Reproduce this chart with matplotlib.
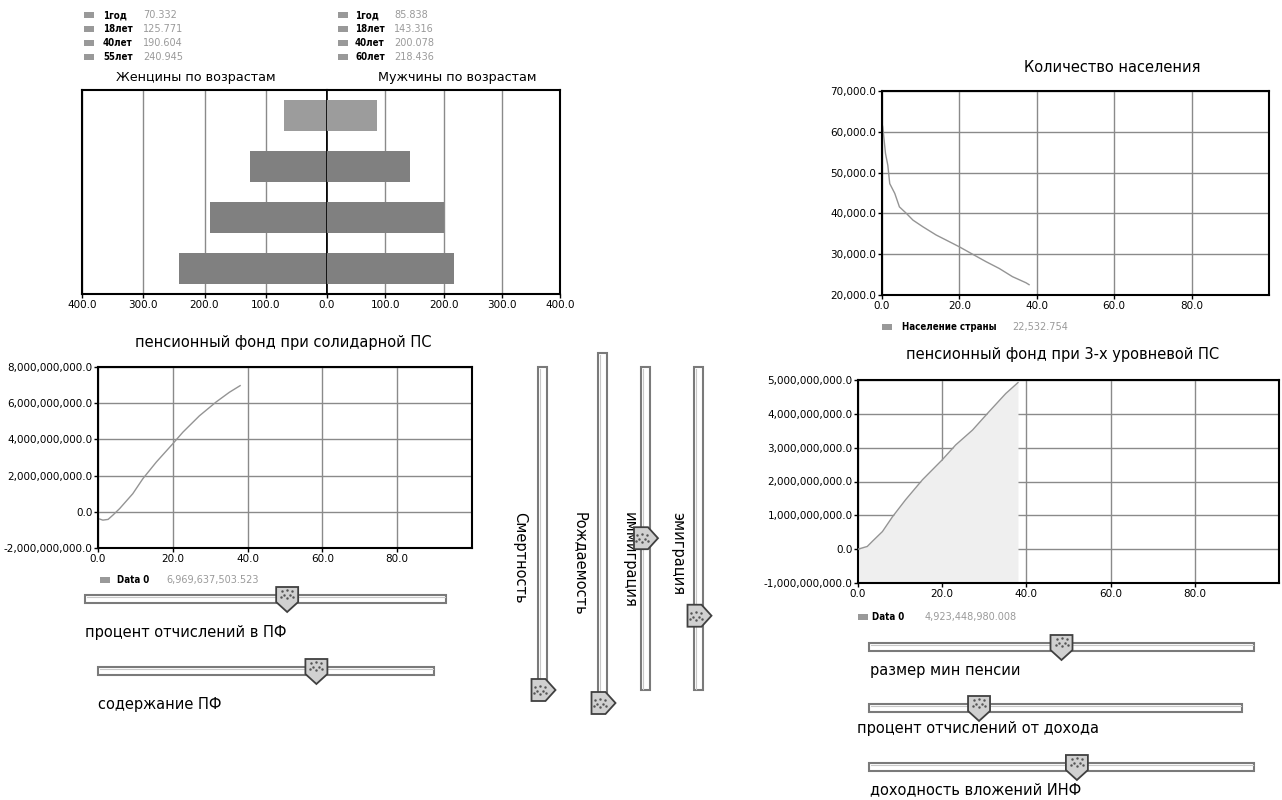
import matplotlib
matplotlib.use('Agg')
import matplotlib.pyplot as plt
from matplotlib.patches import Rectangle, Polygon
import numpy as np

plt.rcParams['font.family'] = ['DejaVu Sans']

W, H = 1282, 800

# ---------------- data ----------------
ages_women = ['1год', '18лет', '40лет', '55лет']
ages_men = ['1год', '18лет', '40лет', '60лет']
women = [70.332, 125.771, 190.604, 240.945]
men = [85.838, 143.316, 200.078, 218.436]
pyr_ticks_left = [400, 300, 200, 100, 0]
pyr_ticks_right = [100, 200, 300, 400]

pop_t = [0, 0.2, 0.9, 1.5, 2.0, 3.3, 4.5, 6.3, 8.0, 10.6, 14.0, 16.6, 20.0, 23.4, 26.9, 30.3, 33.7, 37.2, 38.0]
pop_v = [62000, 61200, 54700, 51800, 47300, 44900, 41600, 40000, 38350, 36700, 34700, 33450,
         31800, 30000, 28160, 26500, 24500, 23000, 22532.754]
pop_label = 'Население страны'
pop_current = 22532.754

pf_t = [0, 1.3, 2.7, 4.0, 5.8, 9.3, 12.0, 15.6, 20.0, 22.7, 27.1, 31.6, 35.1, 38.0]
pf_v = [-0.37e9, -0.46e9, -0.42e9, -0.18e9, 0.18e9, 1.0e9, 1.83e9, 2.75e9, 3.76e9, 4.4e9,
        5.3e9, 6.07e9, 6.6e9, 6969637503.523]
pf_current = 6969637503.523

pf3_t = [0, 2.2, 3.4, 5.8, 8.2, 11.3, 15.3, 20.0, 23.2, 27.2, 31.1, 35.1, 38.0]
pf3_v = [0.0, 0.08e9, 0.23e9, 0.52e9, 0.96e9, 1.46e9, 2.05e9, 2.64e9, 3.08e9, 3.52e9,
         4.06e9, 4.6e9, 4923448980.008]
pf3_current = 4923448980.008

x_ticks = [0, 20, 40, 60, 80]
pop_yticks = [20000, 30000, 40000, 50000, 60000, 70000]
pf_yticks = [-2e9, 0, 2e9, 4e9, 6e9, 8e9]
pf3_yticks = [-1e9, 0, 1e9, 2e9, 3e9, 4e9, 5e9]

h_slider_labels = ['процент отчислений в ПФ', 'содержание ПФ', 'размер мин пенсии',
                   'процент отчислений от дохода', 'доходность вложений ИНФ']
h_slider_values = [0.56, 0.65, 0.50, 0.295, 0.54]
v_slider_labels = ['Смертность', 'Рождаемость', 'иммиграция', 'эмиграция']
v_slider_values = [0.0, 0.0, 0.47, 0.23]

# ---------------- figure ----------------
fig = plt.figure(figsize=(W / 100, H / 100), dpi=100)
fig.patch.set_facecolor('white')

def ax_at(x0, y0, x1, y1):
    return fig.add_axes([x0 / W, 1 - y1 / H, (x1 - x0) / W, (y1 - y0) / H])

LINE = '#949494'
GRID = '#8a8a8a'
TICK_FS = 7.5

def style(ax):
    for s in ax.spines.values():
        s.set_color('black')
        s.set_linewidth(1.5)
    ax.grid(True, color=GRID, lw=1)
    ax.set_axisbelow(True)
    ax.tick_params(length=3, width=1, labelsize=TICK_FS, pad=1)

# ---- pyramid ----
axL = ax_at(82, 90, 327, 294)
axR = ax_at(327, 90, 560, 294)
ypos = np.arange(len(women))
bar_cols = ['#9c9c9c'] + ['#808080'] * (len(women) - 1)
axL.barh(ypos, women, height=0.6, color=bar_cols, zorder=3)
axR.barh(ypos, men, height=0.6, color=bar_cols, zorder=3)
axL.set_xlim(400, 0)
axR.set_xlim(0, 400)
for a in (axL, axR):
    style(a)
    a.set_ylim(len(women) - 0.5, -0.5)
    a.set_yticks([])
    a.grid(False, axis='y')
axL.set_xticks(pyr_ticks_left)
axL.set_xticklabels([f'{v:.1f}' for v in pyr_ticks_left])
axR.set_xticks(pyr_ticks_right)
axR.set_xticklabels([f'{v:.1f}' for v in pyr_ticks_right])
axL.spines['right'].set_linewidth(1.2)
axR.spines['left'].set_linewidth(1.2)

# ---- population ----
axP = ax_at(882, 91, 1269, 295)
axP.plot(pop_t, pop_v, color=LINE, lw=1)
axP.set_xlim(0, 100)
axP.set_ylim(20000, 70000)
style(axP)
axP.set_xticks(x_ticks)
axP.set_xticklabels([f'{v:.1f}' for v in x_ticks])
axP.set_yticks(pop_yticks)
axP.set_yticklabels([f'{v:,.1f}' for v in pop_yticks])

# ---- pension fund (solidary) ----
axF = ax_at(98, 367, 472, 548)
axF.plot(pf_t, pf_v, color=LINE, lw=1)
axF.set_xlim(0, 100)
axF.set_ylim(-2e9, 8e9)
style(axF)
axF.set_xticks(x_ticks)
axF.set_xticklabels([f'{v:.1f}' for v in x_ticks])
axF.set_yticks(pf_yticks)
axF.set_yticklabels([f'{v:,.1f}' for v in pf_yticks])

# ---- pension fund (3-level) ----
axG = ax_at(858, 380, 1279, 583)
axG.fill_between(pf3_t, pf3_v, -1e9, color='#efefef', lw=0, zorder=1)
axG.plot(pf3_t, pf3_v, color=LINE, lw=1, zorder=3)
axG.set_xlim(0, 100)
axG.set_ylim(-1e9, 5e9)
style(axG)
axG.set_xticks(x_ticks)
axG.set_xticklabels([f'{v:.1f}' for v in x_ticks])
axG.set_yticks(pf3_yticks)
axG.set_yticklabels([f'{v:,.1f}' for v in pf3_yticks])

# ---------------- overlay ----------------
ov = fig.add_axes([0, 0, 1, 1])
ov.set_xlim(0, W)
ov.set_ylim(H, 0)
ov.axis('off')

TFS = 10.5

def title(x, y, s, fs=TFS):
    ov.text(x, y, s, ha='center', va='center', fontsize=fs)

title(196, 77, 'Женцины по возрастам', 9.2)
title(457, 77, 'Мужчины по возрастам', 9.2)
title(1112, 67, 'Количество населения')
title(283, 343, 'пенсионный фонд при солидарной ПС')
title(1063, 355, 'пенсионный фонд при 3-х уровневой ПС')

def legend_row(x, y, label, value, lx, vx):
    ov.add_patch(Rectangle((x, y - 3), 10, 6, facecolor='#999999', edgecolor='none'))
    ov.text(lx, y, label, ha='left', va='center', fontsize=7, fontweight='bold',
            fontstretch='condensed')
    ov.text(vx, y, value, ha='left', va='center', fontsize=7, color='#9a9a9a')

rows_y = [15, 29, 43, 57]
for i in range(len(women)):
    legend_row(84, rows_y[i], ages_women[i], f'{women[i]:.3f}', 103, 143)
    legend_row(338, rows_y[i], ages_men[i], f'{men[i]:.3f}', 355, 394)

legend_row(882, 327, pop_label, f'{pop_current:,.3f}', 902, 1012)
legend_row(100, 580, 'Data 0', f'{pf_current:,.3f}', 117, 166)
legend_row(858, 617, 'Data 0', f'{pf3_current:,.3f}', 872, 925)

TH_FACE = '#d0d0d0'
TH_EDGE = '#404040'

def dots(cx, cy):
    offs = [(-5, -3), (0, -4), (5, -3), (-3, 1), (3, 1), (-6, 3), (6, 3), (0, 4)]
    ov.scatter([cx + a for a, b in offs], [cy + b for a, b in offs], s=0.6, color='#555555', zorder=6)

def hslider(x0, x1, y, frac, label, lx, ly):
    ov.add_patch(Rectangle((x0, y - 4), x1 - x0, 8, facecolor='white', edgecolor='#7a7a7a', lw=1.5, zorder=4))
    ov.plot([x0 + 1.5, x1 - 1.5], [y - 2, y - 2], color='#c8c8c8', lw=0.8, zorder=4)
    cx = x0 + frac * (x1 - x0)
    pts = [(cx - 11, y - 12), (cx + 11, y - 12), (cx + 11, y + 3), (cx, y + 13), (cx - 11, y + 3)]
    ov.add_patch(Polygon(pts, closed=True, facecolor=TH_FACE, edgecolor=TH_EDGE, lw=1.3, zorder=5))
    dots(cx, y - 5)
    ov.text(lx, ly, label, ha='left', va='center', fontsize=TFS)

def vslider(x, y0, y1, frac, label, lx, ly):
    ov.add_patch(Rectangle((x - 4.5, y0), 9, y1 - y0, facecolor='white', edgecolor='#7a7a7a', lw=1.5, zorder=4))
    ov.plot([x - 2.5, x - 2.5], [y0 + 1.5, y1 - 1.5], color='#c8c8c8', lw=0.8, zorder=4)
    cy = y1 - frac * (y1 - y0)
    pts = [(x - 11, cy - 11), (x + 3, cy - 11), (x + 13, cy), (x + 3, cy + 11), (x - 11, cy + 11)]
    ov.add_patch(Polygon(pts, closed=True, facecolor=TH_FACE, edgecolor=TH_EDGE, lw=1.3, zorder=5))
    dots(x - 3, cy)
    ov.text(lx, ly, label, ha='center', va='top', rotation=270, fontsize=TFS)

hs = [(85, 446, 599, 85, 633), (98, 434, 671, 98, 705), (869, 1254, 647, 870, 670),
      (869, 1242, 708, 857, 728), (869, 1254, 767, 870, 790)]
for (x0, x1, y, lx, ly), v, lab in zip(hs, h_slider_values, h_slider_labels):
    hslider(x0, x1, y, v, lab, lx, ly)

vs = [(542.5, 367, 690, 520, 512), (602.5, 353, 703, 580, 512), (645, 367, 690, 629, 512),
      (698.5, 367, 690, 678, 512)]
for (x, y0, y1, lx, ly), v, lab in zip(vs, v_slider_values, v_slider_labels):
    vslider(x, y0, y1, v, lab, lx, ly)

fig.savefig('out.png', dpi=100, facecolor='white')
